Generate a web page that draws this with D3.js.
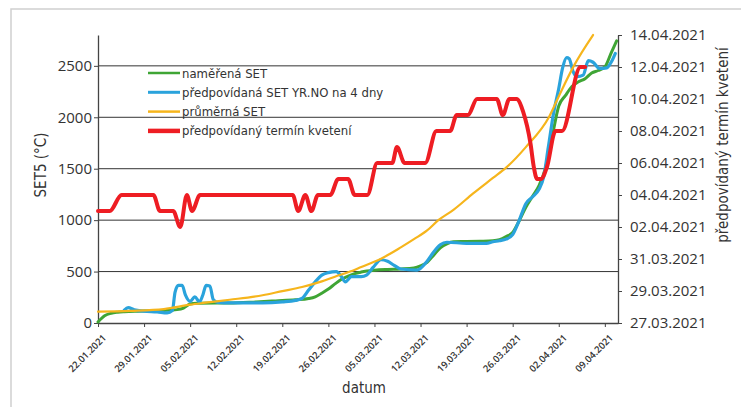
<!DOCTYPE html>
<html><head><meta charset="utf-8">
<script src="https://cdn.jsdelivr.net/npm/d3@7"></script>
<style>
html,body{margin:0;padding:0;background:#fff;}
svg{display:block;}
text{font-family:"Liberation Sans Narrow","DejaVu Sans Condensed","Liberation Sans",Arial,sans-serif;fill:#333;}
</style></head>
<body>
<svg id="c" width="741" height="407"></svg>
<script>
// ---- data ----
const xTickDates = ["2021-01-22","2021-01-29","2021-02-05","2021-02-12","2021-02-19","2021-02-26","2021-03-05","2021-03-12","2021-03-19","2021-03-26","2021-04-02","2021-04-09"];
const yTicks = [0,500,1000,1500,2000,2500];
const rightTickDates = ["2021-03-27","2021-03-29","2021-03-31","2021-04-02","2021-04-04","2021-04-06","2021-04-08","2021-04-10","2021-04-12","2021-04-14"];

const greenDates = ["2021-01-22","2021-01-23","2021-01-24","2021-01-25","2021-01-26","2021-01-28","2021-01-30","2021-02-01","2021-02-03","2021-02-04","2021-02-05","2021-02-06","2021-02-09","2021-02-11","2021-02-15","2021-02-18","2021-02-21","2021-02-23","2021-02-24","2021-02-25","2021-02-26","2021-02-27","2021-02-28","2021-03-01","2021-03-02","2021-03-03","2021-03-05","2021-03-07","2021-03-09","2021-03-11","2021-03-12","2021-03-13","2021-03-14","2021-03-15","2021-03-16","2021-03-17","2021-03-19","2021-03-21","2021-03-23","2021-03-24","2021-03-25","2021-03-26","2021-03-27","2021-03-28","2021-03-29","2021-03-30","2021-03-31","2021-04-01","2021-04-02","2021-04-03","2021-04-04","2021-04-05","2021-04-06","2021-04-07","2021-04-08","2021-04-09","2021-04-10","2021-04-10T19"];
const greenValues = [10,70,95,105,110,115,118,122,130,145,185,192,195,195,205,215,225,238,255,290,330,380,425,455,480,495,512,520,525,535,555,590,660,730,770,790,792,795,800,810,840,880,994,1125,1230,1335,1510,1810,2110,2210,2300,2345,2375,2430,2455,2490,2632,2744];

const blueDates = ["2021-01-26","2021-01-26T14","2021-01-27T12","2021-01-29","2021-01-31","2021-02-01T12","2021-02-02T07","2021-02-02T17","2021-02-03T05","2021-02-03T19","2021-02-04T07","2021-02-05","2021-02-05T17","2021-02-06T10","2021-02-06T22","2021-02-07T10","2021-02-08","2021-02-08T12","2021-02-09T05","2021-02-11","2021-02-16","2021-02-19","2021-02-21","2021-02-22","2021-02-23","2021-02-24","2021-02-25","2021-02-26","2021-02-27T05","2021-02-28","2021-02-28T14","2021-03-01T12","2021-03-03","2021-03-03T19","2021-03-04T19","2021-03-06","2021-03-07","2021-03-08","2021-03-09","2021-03-11T12","2021-03-13","2021-03-14","2021-03-15","2021-03-16","2021-03-19","2021-03-22","2021-03-23","2021-03-24","2021-03-25","2021-03-26","2021-03-27","2021-03-28","2021-03-29","2021-03-30","2021-03-30T17","2021-03-31T10","2021-04-01T05","2021-04-02","2021-04-02T14","2021-04-03T05","2021-04-03T14","2021-04-04T05","2021-04-04T19","2021-04-05T17","2021-04-06T12","2021-04-07T05","2021-04-08T05","2021-04-09T07","2021-04-10","2021-04-10T14"];
const blueValues = [125,150,128,115,108,98,120,300,365,365,270,210,255,205,270,365,360,230,200,195,195,205,220,240,320,400,465,490,500,450,400,450,450,465,540,615,600,560,525,515,600,690,760,785,775,775,790,800,815,860,1000,1160,1225,1300,1420,1710,2040,2280,2480,2580,2570,2440,2395,2410,2550,2535,2475,2480,2540,2620];

const orangeDates = ["2021-01-22","2021-01-27","2021-02-01","2021-02-05","2021-02-07","2021-02-11","2021-02-16","2021-02-19","2021-02-22","2021-02-25","2021-02-27","2021-03-01T07","2021-03-03","2021-03-06","2021-03-09","2021-03-11","2021-03-13","2021-03-14T17","2021-03-17","2021-03-20","2021-03-23","2021-03-25","2021-03-28","2021-03-31T12","2021-04-02T05","2021-04-04T07","2021-04-07T05"];
const orangeValues = [110,118,135,178,195,226,270,310,350,405,450,500,545,625,735,815,900,1000,1100,1260,1410,1510,1710,2000,2232,2500,2800];

const redDates = ["2021-01-22","2021-01-23T19","2021-01-25T14","2021-01-30T10","2021-01-31T10","2021-02-02T10","2021-02-03T12","2021-02-04T12","2021-02-05T07","2021-02-06T12","2021-02-20T14","2021-02-21T10","2021-02-22T12","2021-02-23T10","2021-02-24T10","2021-02-26T07","2021-02-27T12","2021-03-01","2021-03-02","2021-03-03T22","2021-03-05T10","2021-03-07T17","2021-03-08T10","2021-03-09T14","2021-03-12T17","2021-03-14T10","2021-03-16T12","2021-03-17T12","2021-03-19T05","2021-03-20T14","2021-03-23T14","2021-03-24T12","2021-03-25T12","2021-03-26T14","2021-03-27T14","2021-03-28T17","2021-03-29T05","2021-03-29T17","2021-03-30T07","2021-03-31T05","2021-04-01T12","2021-04-02T12","2021-04-05T07","2021-04-06"];
const redValues = ["2021-04-03","2021-04-03","2021-04-04","2021-04-04","2021-04-03","2021-04-03","2021-04-02","2021-04-04","2021-04-03","2021-04-04","2021-04-04","2021-04-03","2021-04-04","2021-04-03","2021-04-04","2021-04-04","2021-04-05","2021-04-05","2021-04-04","2021-04-04","2021-04-06","2021-04-06","2021-04-07","2021-04-06","2021-04-06","2021-04-08","2021-04-08","2021-04-09","2021-04-09","2021-04-10","2021-04-10","2021-04-09","2021-04-10","2021-04-10","2021-04-09T05","2021-04-07T05","2021-04-05T18","2021-04-05","2021-04-05","2021-04-05T18","2021-04-08","2021-04-08","2021-04-12","2021-04-12"];

const legendLabels = ["naměřená SET","předpovídaná SET YR.NO na 4 dny","průměrná SET","předpovídaný termín kvetení"];

// ---- helpers ----
const pH = d3.timeParse("%Y-%m-%dT%H"), pD = d3.timeParse("%Y-%m-%d");
const parse = s => pH(s) || pD(s);
const fmt = d3.timeFormat("%d.%m.%Y");

const svg = d3.select("#c");
// scan frame
svg.append("rect").attr("x",11).attr("y",9).attr("width",760).attr("height",420)
  .attr("fill","none").attr("stroke","#cfcfcf").attr("stroke-width",1.5);

const L=98, R=618, T=35, B=323;
const x = d3.scaleTime().domain([parse("2021-01-22"), parse("2021-04-11")]).range([L,R]);
const y = d3.scaleLinear().domain([0,2800]).range([B,T]);
const yR = d3.scaleTime().domain([parse("2021-03-27"), parse("2021-04-14")]).range([B,T]);

// grid
svg.append("g").selectAll("line").data(yTicks.filter(v=>v>0)).join("line")
  .attr("x1",L).attr("x2",R).attr("y1",d=>y(d)).attr("y2",d=>y(d))
  .attr("stroke","#333").attr("stroke-width",1);

// left axis
const gl = svg.append("g").attr("transform",`translate(${L},0)`)
  .call(d3.axisLeft(y).tickValues(yTicks).tickFormat(d3.format("d")).tickSize(4).tickPadding(2).tickSizeOuter(0));
gl.select(".domain").attr("stroke","#444").attr("stroke-width",1.3);
gl.selectAll(".tick line").attr("stroke","#444");
gl.selectAll("text").style("font-family","'Open Sans',sans-serif").style("font-size","15px").attr("fill","#333");

// right axis
const gr = svg.append("g").attr("transform",`translate(${R},0)`)
  .call(d3.axisRight(yR).tickValues(rightTickDates.map(parse)).tickFormat(fmt).tickSize(4).tickPadding(8).tickSizeOuter(0));
gr.select(".domain").attr("stroke","#444").attr("stroke-width",1.3);
gr.selectAll(".tick line").attr("stroke","#444");
gr.selectAll("text").style("font-family","'Open Sans',sans-serif").style("font-size","15px").attr("fill","#333");

// bottom axis
const gb = svg.append("g").attr("transform",`translate(0,${B})`)
  .call(d3.axisBottom(x).tickValues(xTickDates.map(parse)).tickFormat(fmt).tickSize(4).tickSizeOuter(0));
gb.select(".domain").attr("stroke","#444").attr("stroke-width",1.3);
gb.selectAll(".tick line").attr("stroke","#444");
gb.selectAll("text").attr("y",0).attr("dy","0.35em")
  .attr("transform","translate(6,13) rotate(-45)").attr("text-anchor","end")
  .style("font-family","'Open Sans',sans-serif").style("font-size","9.5px").style("font-weight","600").attr("fill","#2a2a2a");

// series
const line = d3.line().curve(d3.curveMonotoneX);
function draw(dates, vals, scale, color, w){
  const pts = dates.map((d,i)=>[x(parse(d)), scale(vals[i])]);
  svg.append("path").attr("d", line(pts)).attr("fill","none").attr("stroke",color)
    .attr("stroke-width",w).attr("stroke-linejoin","round").attr("stroke-linecap","round");
}
draw(greenDates, greenValues, y, "#3fa535", 3);
draw(blueDates, blueValues, y, "#2aa3dc", 3.2);
draw(orangeDates, orangeValues, y, "#f6b51c", 2.2);
draw(redDates, redValues.map(parse), yR, "#ee1d23", 4);

// legend
const legColors = ["#3fa535","#2aa3dc","#f6b51c","#ee1d23"], legW=[2.5,3,2.5,4.5];
const lg = svg.append("g");
legendLabels.forEach((t,i)=>{
  const yy = 73 + i*19.3;
  lg.append("line").attr("x1",148).attr("x2",180).attr("y1",yy).attr("y2",yy)
    .attr("stroke",legColors[i]).attr("stroke-width",legW[i]);
  lg.append("text").attr("x",182).attr("y",yy).attr("dy","0.35em").style("font-size","13px").text(t);
});

// axis titles
svg.append("text").attr("transform","translate(46,165) rotate(-90)").attr("text-anchor","middle")
  .style("font-size","15px").text("SET5 (°C)");
svg.append("text").attr("transform","translate(728,145) rotate(-90)").attr("text-anchor","middle")
  .style("font-size","15px").text("předpovídaný termín kvetení");
svg.append("text").attr("x",364).attr("y",393).attr("text-anchor","middle")
  .style("font-size","15px").text("datum");
</script>
</body></html>
